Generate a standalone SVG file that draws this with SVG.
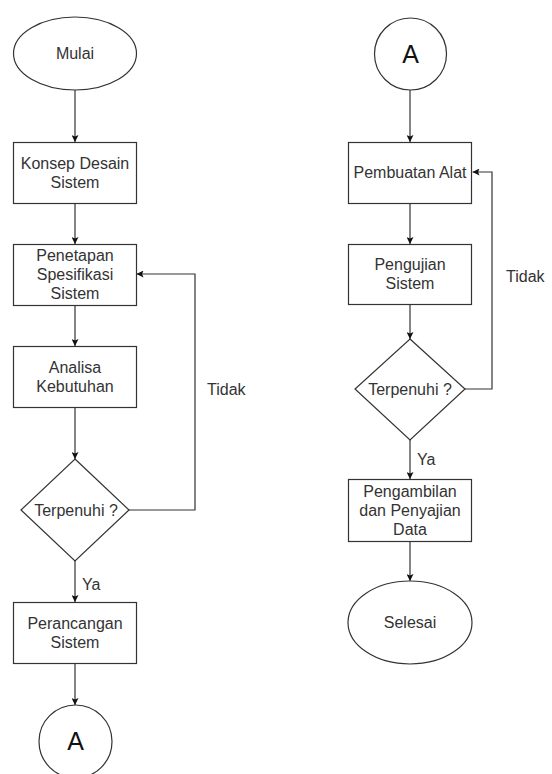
<svg xmlns="http://www.w3.org/2000/svg" width="552" height="774" viewBox="0 0 552 774">
<style>
.s{fill:#fff;stroke:#333;stroke-width:1.2}
.t{font-family:"Liberation Sans",Arial,sans-serif;font-size:16px;fill:#333;text-anchor:middle}
.l{font-family:"Liberation Sans",Arial,sans-serif;font-size:16px;fill:#333}
.big{font-family:"Liberation Sans",Arial,sans-serif;font-size:25px;fill:#111;text-anchor:middle}
.c{fill:none;stroke:#333;stroke-width:1.2;marker-end:url(#ah)}
</style>
<defs>
<marker id="ah" viewBox="0 0 10 10" refX="10" refY="5" markerWidth="7" markerHeight="7" markerUnits="userSpaceOnUse" orient="auto">
<path d="M0,0 L10,5 L0,10 L2,5 Z" fill="#111"/>
</marker>
</defs>
<rect width="552" height="774" fill="#fff"/>
<g id="connectors">
<path class="c" d="M75,90 V142"/>
<path class="c" d="M75,203 V244"/>
<path class="c" d="M75,305 V346"/>
<path class="c" d="M75,407 V459"/>
<path class="c" d="M75,561 V602"/>
<path class="c" d="M75,664 V705"/>
<path class="c" d="M129,510 H195 V274 H136.5"/>
<path class="c" d="M410,90 V142"/>
<path class="c" d="M410,203 V244"/>
<path class="c" d="M410,304 V339"/>
<path class="c" d="M410,440 V479"/>
<path class="c" d="M410,541 V581"/>
<path class="c" d="M465,389 H492 V172 H472.5"/>
<text class="l" x="207" y="395">Tidak</text>
<text class="l" x="82" y="590">Ya</text>
<text class="l" x="506" y="282">Tidak</text>
<text class="l" x="417" y="465">Ya</text>
</g>
<g id="mulai"><ellipse class="s" cx="75" cy="53.5" rx="61.5" ry="36.5"/><text class="t" x="75" y="59">Mulai</text></g>
<g id="konsep"><rect class="s" x="13.5" y="142.5" width="123" height="61"/><text class="t" x="75" y="168.5">Konsep Desain</text><text class="t" x="75" y="188">Sistem</text></g>
<g id="penetapan"><rect class="s" x="13.5" y="244.5" width="123" height="61"/><text class="t" x="75" y="261">Penetapan</text><text class="t" x="75" y="280">Spesifikasi</text><text class="t" x="75" y="299">Sistem</text></g>
<g id="analisa"><rect class="s" x="13.5" y="346.5" width="123" height="61"/><text class="t" x="75" y="372.5">Analisa</text><text class="t" x="75" y="391.5">Kebutuhan</text></g>
<g id="terpenuhi1"><polygon class="s" points="75,459 129,510 75,561 21,510"/><text class="t" x="76" y="515.5">Terpenuhi ?</text></g>
<g id="perancangan"><rect class="s" x="13.5" y="602.5" width="123" height="61"/><text class="t" x="75" y="629">Perancangan</text><text class="t" x="75" y="648">Sistem</text></g>
<g id="a1"><circle class="s" cx="75.5" cy="741.5" r="36.5"/><text class="big" x="75.5" y="750">A</text></g>
<g id="a2"><circle class="s" cx="410.5" cy="54" r="36"/><text class="big" x="410.5" y="63">A</text></g>
<g id="pembuatan"><rect class="s" x="348.5" y="142.5" width="123" height="61"/><text class="t" x="410" y="178">Pembuatan Alat</text></g>
<g id="pengujian"><rect class="s" x="348.5" y="244.5" width="123" height="60"/><text class="t" x="410" y="270">Pengujian</text><text class="t" x="410" y="289">Sistem</text></g>
<g id="terpenuhi2"><polygon class="s" points="410,339 465,389 410,440 355,389"/><text class="t" x="410" y="394.5">Terpenuhi ?</text></g>
<g id="pengambilan"><rect class="s" x="348.5" y="479.5" width="123" height="62"/><text class="t" x="410" y="496.5">Pengambilan</text><text class="t" x="410" y="515.5">dan Penyajian</text><text class="t" x="410" y="534.5">Data</text></g>
<g id="selesai"><ellipse class="s" cx="410" cy="622.5" rx="62" ry="41.5"/><text class="t" x="410" y="628">Selesai</text></g>
</svg>
